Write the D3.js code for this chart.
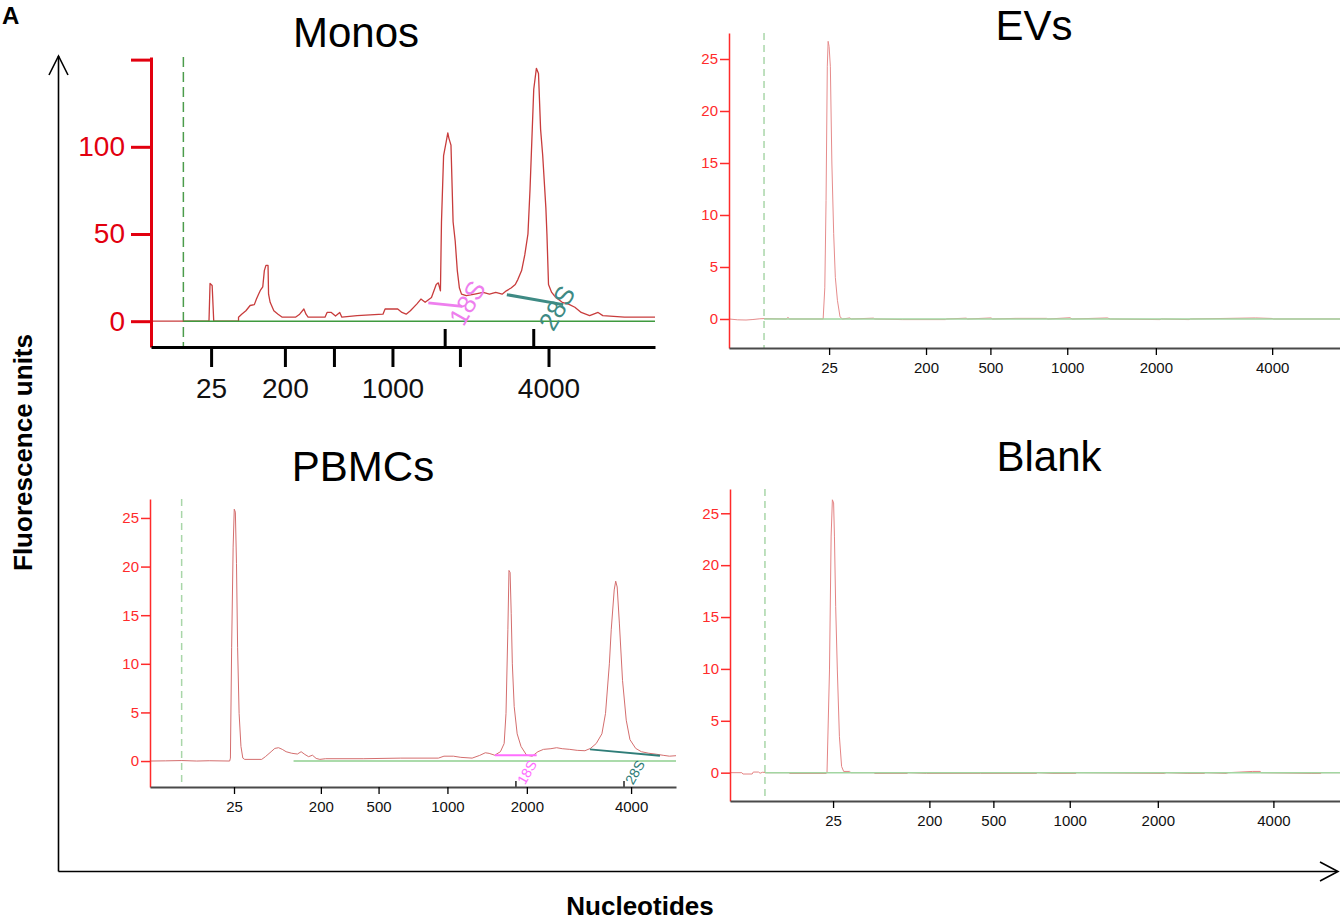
<!DOCTYPE html>
<html>
<head>
<meta charset="utf-8">
<script src="https://cdn.jsdelivr.net/npm/d3@7"></script>
<style>
  body { margin: 0; background: #fff; }
  svg { display: block; font-family: "Liberation Sans", Arial, sans-serif; }
</style>
</head>
<body>
<svg id="chart" width="1340" height="922"></svg>
<script>
// ladder: nucleotide sizes and their migration times (s)
const ladderSizes = [25, 200, 500, 1000, 2000, 4000];
const ladderTimes = [23.0, 30.0, 34.65, 40.2, 46.6, 55.0];
const monosTickLabels = ["25", "200", "", "1000", "", "4000"];
const smallTickLabels = ladderSizes.map(String);

// electropherograms: [time, fluorescence]
const monosTrace = [
  [17.3, 0], [22.8, 0], [22.9, 21.6], [23.1, 20.5], [23.25, 0], [25.6, 0], [25.6, 2.3], [25.9, 4],
  [26.3, 6], [26.7, 9], [27.1, 9.5], [27.3, 12.7], [27.5, 15.5], [27.7, 18], [27.9, 19.7],
  [28.05, 29], [28.2, 32], [28.4, 32], [28.45, 15.5], [28.6, 10.8], [28.95, 6], [29.35, 4],
  [29.75, 2.3], [31.0, 2.3], [31.4, 4], [31.8, 7], [32.0, 4], [32.2, 2.3], [33.8, 2.3], [34.0, 5],
  [34.4, 5], [34.8, 3], [35.2, 5], [35.4, 2.3], [36.85, 3.2], [39.3, 4], [39.5, 7], [40.7, 7],
  [41.1, 5], [41.5, 4], [41.9, 6], [42.5, 9.8], [42.9, 12.7], [43.3, 10.8], [43.9, 13.6],
  [44.35, 21], [44.55, 22], [44.75, 17.4], [44.85, 57], [45.05, 95], [45.3, 103], [45.45, 108],
  [45.55, 105], [45.75, 101], [45.95, 57], [46.15, 46], [46.35, 29], [46.55, 19], [46.75, 15.5],
  [47.2, 14.6], [48.0, 15.5], [48.8, 16.5], [49.4, 15.5], [50.0, 16.5], [50.6, 15.5], [51.0, 17.4],
  [51.45, 19], [51.85, 21], [52.1, 24], [52.45, 29], [52.75, 38], [53.05, 50], [53.25, 76],
  [53.6, 133], [53.85, 145], [54.05, 142], [54.25, 110], [54.45, 95], [54.75, 65], [54.85, 50],
  [55.0, 21], [55.3, 16.5], [55.7, 13.6], [56.3, 10.8], [56.9, 9.8], [57.5, 8], [58.1, 5],
  [58.9, 3.2], [59.7, 5], [60.15, 3.2], [62.2, 2.3], [65.1, 2.3]
];

const evsTrace = [
  [15.77, 0], [16.4, -0.08], [17.0, -0.1], [17.5, -0.05], [18.0, 0.02], [18.3, 0.04], [19.9, 0],
  [20.03, 0.15], [20.15, 0], [22.57, 0], [22.69, 3], [22.78, 11.4], [22.87, 24.3], [22.93, 26.7],
  [23.0, 26.2], [23.09, 24.3], [23.2, 15], [23.33, 8.2], [23.45, 4], [23.6, 1.8], [23.79, 0.2],
  [23.97, 0], [24.5, 0.1], [24.6, 0], [26.2, 0.08], [26.3, 0], [28.3, -0.06], [31.4, -0.06],
  [31.5, 0], [32.9, 0.08], [33.0, 0], [34.7, 0.1], [34.8, 0], [36.5, 0.06], [38.7, 0.06],
  [38.8, 0], [40.4, 0.12], [40.55, 0], [43.1, 0.1], [43.3, 0], [46.9, -0.06], [47.0, 0],
  [49.0, -0.06], [49.1, 0], [53.8, 0.1], [55.0, 0.05], [55.1, 0], [59.9, 0]
];

const pbmcTrace = [
  [16.23, 0], [17.5, 0.02], [18.8, 0.05], [20.0, 0], [21.0, 0.03], [22.65, 0], [22.71, 0.3],
  [22.81, 11.7], [22.93, 22], [23.02, 25.9], [23.11, 25.6], [23.2, 20.3], [23.29, 11.7],
  [23.41, 4.9], [23.56, 1.5], [23.71, 0.3], [23.86, 0.17], [25.23, 0.17], [25.53, 0.45],
  [25.99, 0.96], [26.29, 1.3], [26.59, 1.37], [26.89, 1.2], [27.2, 0.96], [27.65, 0.8],
  [28.11, 0.72], [28.41, 0.96], [28.71, 0.68], [29.01, 0.45], [29.32, 0.6], [29.62, 0.27],
  [29.92, 0.17], [30.38, 0.24], [33.41, 0.24], [36.44, 0.3], [39.47, 0.3], [39.92, 0.5],
  [40.68, 0.5], [41.28, 0.38], [42.19, 0.3], [42.8, 0.58], [43.25, 0.85], [43.56, 0.79],
  [44.01, 0.6], [44.47, 0.96], [44.77, 1.8], [44.92, 4.9], [45.07, 13.5], [45.16, 19.6],
  [45.25, 19.4], [45.34, 15.2], [45.43, 10], [45.58, 5.6], [45.82, 2.8], [46.13, 1.5],
  [46.58, 0.6], [47.03, 0.5], [47.49, 0.96], [47.94, 1.2], [48.54, 1.27], [49.0, 1.37],
  [49.45, 1.27], [50.06, 1.2], [50.66, 1.1], [51.28, 1.06], [51.73, 1.3], [52.19, 1.8],
  [52.65, 2.8], [52.94, 4.9], [53.25, 10], [53.4, 13.5], [53.64, 17.6], [53.76, 18.5],
  [53.88, 17.9], [54.06, 14.1], [54.31, 8.3], [54.61, 4.2], [54.91, 2.2], [55.37, 1.3],
  [55.83, 0.96], [56.43, 0.8], [57.03, 0.7], [57.64, 0.58], [58.09, 0.5], [58.62, 0.55]
];

const blankTrace = [
  [15.51, 0], [16.37, 0], [16.45, -0.13], [17.12, -0.13], [17.2, 0.06], [17.58, 0.06],
  [17.7, -0.05], [17.88, 0.04], [18.2, 0], [19.8, 0], [19.84, -0.08], [22.5, -0.08], [22.56, 0],
  [22.74, 9.9], [22.86, 22.8], [22.95, 26.3], [23.04, 26.0], [23.1, 22.8], [23.19, 16],
  [23.31, 9.9], [23.46, 3.5], [23.62, 0.6], [23.77, 0.12], [24.2, 0.12], [24.3, 0], [26.0, 0],
  [26.02, -0.08], [28.4, -0.08], [28.45, 0], [29.79, -0.08], [33.1, -0.08], [33.7, -0.08],
  [37.8, -0.08], [37.85, 0], [38.98, -0.08], [40.65, -0.08], [40.7, 0], [47.1, -0.08], [47.2, 0],
  [48.79, -0.08], [50.0, -0.08], [50.05, 0], [51.6, -0.08], [51.7, 0], [53.5, 0.12], [54.05, 0.12],
  [54.1, 0], [57.8, -0.08], [58.45, -0.08], [58.5, 0], [59.84, 0]
];

// rRNA peak baselines: [from, to] in [time, fluorescence], label anchor, marker tick time
const monosRrna = [
  { name: "18S", from: [43.6, 10.5], to: [46.8, 8.5], label: [47.3, 10.5], tick: 45.2, color: "#ee7fee" },
  { name: "28S", from: [51.05, 15.2], to: [56.4, 9.5], label: [55.8, 7.6], tick: 53.6, color: "#3e8a84" }
];
const pbmcRrna = [
  { name: "18S", from: [44.03, 0.6], to: [47.39, 0.6], label: [46.6, -1.15], tick: 45.72, color: "#ff6eff" },
  { name: "28S", from: [51.69, 1.2], to: [57.33, 0.55], label: [55.3, -1.15], tick: 54.43, color: "#2f7d78" }
];

const bigStyle = {
  yColor: "#e2000f", yWidth: 3, yTick: 20, yPad: 6, font: 28,
  xColor: "#000", xWidth: 3, xTick: 20, xLabelY: 51,
  trace: "#c83c3c", traceWidth: 1.3, green: "#3f9a3f", dash: "10,5", dashColor: "#4c9c4c",
  labelFont: 26
};
const smallStyle = {
  yColor: "#ff2b2b", yWidth: 1.5, yTick: 9, yPad: 2, font: 15,
  xColor: "#4a4a4a", xWidth: 2, xTick: 7, xLabelY: 25,
  trace: "#e68c8c", traceWidth: 1, green: "#a2d6a2", dash: "7,5", dashColor: "#a9d6a9",
  labelFont: 14
};

const panels = [
  { title: "Monos", trace: monosTrace, rrna: monosRrna, style: bigStyle, tickLabels: monosTickLabels,
    xDomain: [17.3, 65.1], yDomain: [-14.8, 151.5], yTicks: [0, 50, 100, 150],
    left: 151, right: 655, top: 57, bottom: 347, titleX: 356, titleY: 47, start: 20.37, greenFrom: 20.37 },
  { title: "EVs", trace: evsTrace, rrna: [], style: smallStyle, tickLabels: smallTickLabels,
    xDomain: [15.77, 59.9], yDomain: [-2.79, 27.5], yTicks: [0, 5, 10, 15, 20, 25],
    left: 729, right: 1340, top: 33, bottom: 348, titleX: 1034, titleY: 40, start: 18.3, greenFrom: 18.3 },
  { title: "PBMCs", trace: pbmcTrace, rrna: pbmcRrna, style: { ...smallStyle, trace: "#d46e6e", green: "#8fcf8f" },
    tickLabels: smallTickLabels,
    xDomain: [16.23, 58.62], yDomain: [-2.67, 26.95], yTicks: [0, 5, 10, 15, 20, 25],
    left: 150, right: 676, top: 499, bottom: 787, titleX: 363, titleY: 481, start: 18.78, greenFrom: 27.8 },
  { title: "Blank", trace: blankTrace, rrna: [], style: { ...smallStyle, trace: "#e48484" }, tickLabels: smallTickLabels,
    xDomain: [15.51, 59.84], yDomain: [-2.73, 27.34], yTicks: [0, 5, 10, 15, 20, 25],
    left: 730, right: 1340, top: 489, bottom: 801, titleX: 1049, titleY: 471, start: 18.05, greenFrom: 18.05 }
];

const svg = d3.select("#chart");

function drawPanel(p) {
  const s = p.style;
  const big = s === bigStyle;
  const x = d3.scaleLinear().domain(p.xDomain).range([p.left, p.right]);
  const y = d3.scaleLinear().domain(p.yDomain).range([p.bottom, p.top]);
  const g = svg.append("g");

  // title
  g.append("text")
    .attr("x", p.titleX)
    .attr("y", p.titleY)
    .attr("text-anchor", "middle")
    .style("font-size", "42px")
    .style("fill", "#000")
    .text(p.title);

  // start-of-analysis dashed line
  g.append("line")
    .attr("x1", x(p.start)).attr("x2", x(p.start))
    .attr("y1", p.top).attr("y2", p.bottom)
    .attr("stroke", s.dashColor)
    .attr("stroke-width", 1.5)
    .attr("stroke-dasharray", s.dash);

  // trace
  const line = d3.line().x(d => x(d[0])).y(d => y(d[1]));
  g.append("path")
    .datum(p.trace)
    .attr("d", line)
    .attr("fill", "none")
    .attr("stroke", s.trace)
    .attr("stroke-width", s.traceWidth)
    .attr("stroke-linejoin", "round");

  // zero baseline
  g.append("line")
    .attr("x1", x(p.greenFrom)).attr("x2", p.right)
    .attr("y1", y(0)).attr("y2", y(0))
    .attr("stroke", s.green)
    .attr("stroke-width", 1.5);

  // rRNA peak baselines and labels
  p.rrna.forEach(b => {
    g.append("line")
      .attr("x1", x(b.from[0])).attr("y1", y(b.from[1]))
      .attr("x2", x(b.to[0])).attr("y2", y(b.to[1]))
      .attr("stroke", b.color)
      .attr("stroke-width", big ? 3 : 2);
    const cx = x(b.label[0]), cy = y(b.label[1]);
    g.append("text")
      .attr("x", cx).attr("y", cy)
      .attr("text-anchor", "middle")
      .attr("dominant-baseline", "central")
      .attr("transform", `rotate(-60,${cx},${cy})`)
      .style("font-size", s.labelFont + "px")
      .style("fill", b.color)
      .text(b.name);
    g.append("line")
      .attr("x1", x(b.tick)).attr("x2", x(b.tick))
      .attr("y1", p.bottom).attr("y2", p.bottom - (big ? 18 : 6))
      .attr("stroke", "#000")
      .attr("stroke-width", big ? 3 : 1.3);
  });

  // y axis
  const gy = g.append("g")
    .attr("transform", `translate(${p.left},0)`)
    .call(d3.axisLeft(y)
      .tickValues(p.yTicks)
      .tickSize(s.yTick)
      .tickSizeOuter(0)
      .tickPadding(s.yPad)
      .tickFormat(d => (d === 150 ? "" : d)));
  gy.select(".domain").attr("stroke", s.yColor).attr("stroke-width", s.yWidth);
  gy.selectAll(".tick line").attr("stroke", s.yColor).attr("stroke-width", s.yWidth);
  gy.selectAll(".tick text")
    .style("font-size", s.font + "px")
    .style("font-family", '"Liberation Sans", Arial, sans-serif')
    .attr("fill", s.yColor);

  // x axis with ladder sizes
  const gx = g.append("g")
    .attr("transform", `translate(0,${p.bottom})`)
    .call(d3.axisBottom(x)
      .tickValues(ladderTimes)
      .tickSize(s.xTick)
      .tickSizeOuter(0)
      .tickFormat((d, i) => p.tickLabels[i]));
  gx.select(".domain").attr("stroke", s.xColor).attr("stroke-width", s.xWidth);
  gx.selectAll(".tick line").attr("stroke", "#000").attr("stroke-width", big ? 3 : 1.3);
  gx.selectAll(".tick text")
    .attr("y", s.xLabelY)
    .attr("dy", null)
    .style("font-size", s.font + "px")
    .style("font-family", '"Liberation Sans", Arial, sans-serif')
    .attr("fill", "#111");
}

panels.forEach(drawPanel);

// outer frame arrows
const frame = svg.append("g").attr("stroke", "#000").attr("fill", "none").attr("stroke-width", 1.6);
frame.append("line").attr("x1", 58.5).attr("y1", 871.5).attr("x2", 58.5).attr("y2", 56);
frame.append("polyline").attr("points", "49,75 58.5,56 68,75");
frame.append("line").attr("x1", 58.5).attr("y1", 871.5).attr("x2", 1337).attr("y2", 871.5);
frame.append("polyline").attr("points", "1320,862 1338,871.5 1320,881");

svg.append("text")
  .attr("transform", "translate(31.5,452.5) rotate(-90)")
  .attr("text-anchor", "middle")
  .style("font-size", "26px")
  .style("font-weight", "bold")
  .text("Fluorescence units");

svg.append("text")
  .attr("x", 640).attr("y", 915)
  .attr("text-anchor", "middle")
  .style("font-size", "26px")
  .style("font-weight", "bold")
  .text("Nucleotides");

svg.append("text")
  .attr("x", 2).attr("y", 24)
  .style("font-size", "24px")
  .style("font-weight", "bold")
  .text("A");
</script>
</body>
</html>
